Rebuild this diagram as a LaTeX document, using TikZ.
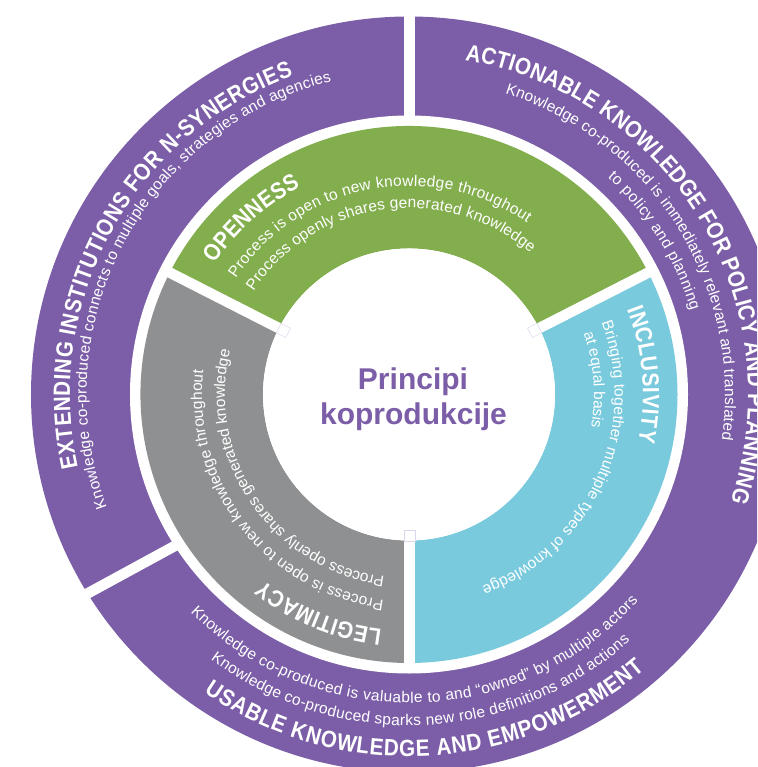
\documentclass[tikz,border=0pt]{standalone}
\usepackage{fontspec}
\setmainfont{Liberation Sans}
\newfontfamily\titlefont[FakeStretch=0.88]{Liberation Sans}
\usetikzlibrary{decorations.text}
\definecolor{ringpurple}{HTML}{7B5EA7}
\definecolor{ringgreen}{HTML}{83AE4E}
\definecolor{ringgrey}{HTML}{8E9091}
\definecolor{ringblue}{HTML}{79CADD}
\definecolor{sqcol}{HTML}{DCD6EC}
\newcommand{\bodyfmt}{\color{white}\fontsize{15.5}{18}\selectfont}
\newcommand{\titlefmt}{\color{white}\titlefont\bfseries\fontsize{23.5}{26}\selectfont}
\tikzset{
  curvedtext/.style={decorate, decoration={text along path, text={#1}, text align=fit to path}},
  gapline/.style={draw=white, line width=10.5},
  marksq/.style={draw=sqcol, line width=0.5, minimum size=10.5, inner sep=0},
  centertext/.style={anchor=base, text=ringpurple, font=\bfseries\fontsize{30}{32}\selectfont}
}
\begin{document}
\begin{tikzpicture}[x=1pt, y=1pt]
\useasboundingbox (-409,-372.5) rectangle (348,394.5);
\clip (-409,-372.5) rectangle (348,394.5);
% outer ring
\fill[ringpurple] (0,0) circle[radius=378];
\fill[white] (0,0) circle[radius=279];
% inner ring sectors
\fill[ringgreen] (27:268.5) arc[start angle=27, end angle=153, radius=268.5] -- (153:146) arc[start angle=153, end angle=27, radius=146] -- cycle;
\fill[ringgrey] (153:268.5) arc[start angle=153, end angle=270, radius=268.5] -- (270:146) arc[start angle=270, end angle=153, radius=146] -- cycle;
\fill[ringblue] (270:268.5) arc[start angle=270, end angle=387, radius=268.5] -- (387:146) arc[start angle=387, end angle=270, radius=146] -- cycle;
% gaps
\draw[gapline] (0.5,272) -- (0.5,400);
\draw[gapline] (-231.9,-150.2) -- (-370,-225.4);
\draw[gapline] (0,0) -- (27:274);
\draw[gapline] (0,0) -- (153:274);
\draw[gapline] (0.5,0) -- (0.5,-274);
\fill[white] (0,0) circle[radius=146];
\node[marksq, rotate=27] (sqA) at (27:141) {};
\node[marksq, rotate=153] (sqB) at (153:141) {};
\node[marksq] (sqC) at (0.5,-141) {};
% outer ring texts
\path[curvedtext={|\titlefmt|EXTENDING INSTITUTIONS FOR N-SYNERGIES}] (192.4:339) arc[start angle=192.4, end angle=110, radius=339];
\path[curvedtext={|\bodyfmt|Knowledge co-produced connects to multiple goals, strategies and agencies}] (200.5:322.5) arc[start angle=200.5, end angle=103.9, radius=322.5];
\path[curvedtext={|\titlefmt|ACTIONABLE KNOWLEDGE FOR POLICY AND PLANNING}] (80.5:339) arc[start angle=80.5, end angle=-18.4, radius=339];
\path[curvedtext={|\bodyfmt|Knowledge co-produced is immediately relevant and translated}] (72.3:316) arc[start angle=72.3, end angle=-8.1, radius=316];
\path[curvedtext={|\bodyfmt|to policy and planning}] (47.5:294) arc[start angle=47.5, end angle=16.5, radius=294];
\path[curvedtext={|\titlefmt|USABLE KNOWLEDGE AND EMPOWERMENT}] (235.5:362) arc[start angle=235.5, end angle=310.6, radius=362];
\path[curvedtext={|\bodyfmt|Knowledge co-produced is valuable to and “owned” by multiple actors}] (224.9:308.5) arc[start angle=224.9, end angle=318, radius=308.5];
\path[curvedtext={|\bodyfmt|Knowledge co-produced sparks new role definitions and actions}] (233.2:331) arc[start angle=233.2, end angle=311.8, radius=331];
% inner ring texts
\path[curvedtext={|\titlefmt|OPENNESS}] (146:234) arc[start angle=146, end angle=117.6, radius=234];
\path[curvedtext={|\bodyfmt|Process is open to new knowledge throughout}] (146.1:208.5) arc[start angle=146.1, end angle=55.5, radius=208.5];
\path[curvedtext={|\bodyfmt|Process openly shares generated knowledge}] (146.4:186.5) arc[start angle=146.4, end angle=49.4, radius=186.5];
\path[curvedtext={|\titlefmt|INCLUSIVITY}] (21.4:234) arc[start angle=21.4, end angle=-11.6, radius=234];
\path[curvedtext={|\bodyfmt|Bringing together multiple types of knowledge}] (20.5:205.5) arc[start angle=20.5, end angle=-69.2, radius=205.5];
\path[curvedtext={|\bodyfmt|at equal basis}] (19.3:185) arc[start angle=19.3, end angle=-9.9, radius=185];
\path[curvedtext={|\titlefmt|LEGITIMACY}] (263.4:236) arc[start angle=263.4, end angle=231.8, radius=236];
\path[curvedtext={|\bodyfmt|Process is open to new knowledge throughout}] (263:207) arc[start angle=263, end angle=173.3, radius=207];
\path[curvedtext={|\bodyfmt|Process openly shares generated knowledge}] (262.4:184) arc[start angle=262.4, end angle=166.8, radius=184];
% centre
\node[centertext] (t1) at (4,4.5) {Principi};
\node[centertext] (t2) at (4.5,-30.5) {koprodukcije};
\end{tikzpicture}
\end{document}
